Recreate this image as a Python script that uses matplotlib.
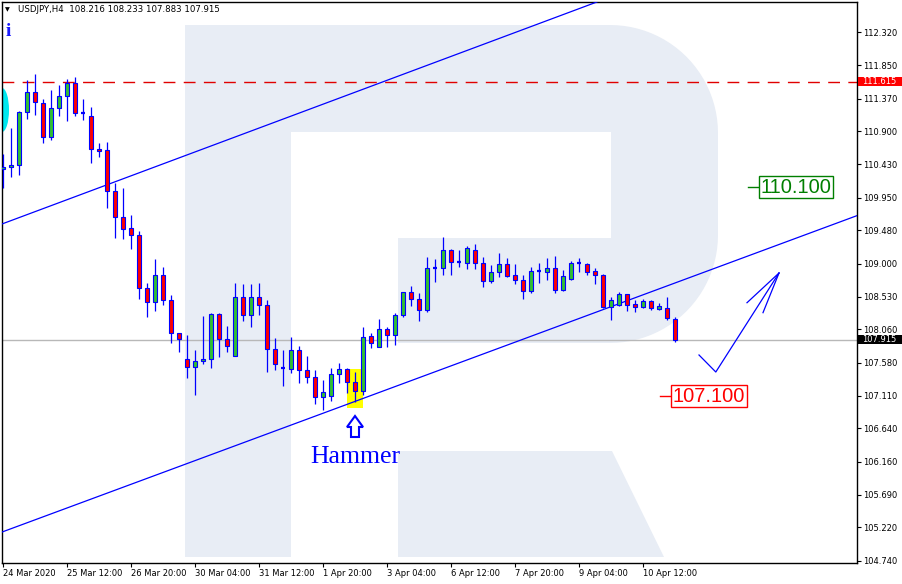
import numpy as np
import matplotlib
matplotlib.use("Agg")
import matplotlib.pyplot as plt
from matplotlib.patches import Rectangle, Polygon, Ellipse

W, H = 902, 584

# ---- H4 candles ----
bar_open = [110.361, 110.390, 110.419, 111.179, 111.466, 111.308, 110.821, 111.237, 111.409, 111.595,
            111.165, 111.122, 110.648, 110.634, 110.046, 109.673, 109.515, 109.415, 108.654, 108.453,
            108.841, 108.482, 108.008, 107.635, 107.521, 107.607, 107.635, 108.281, 107.922, 107.679,
            108.525, 108.267, 108.525, 108.410, 107.779, 107.506, 107.492, 107.765, 107.478, 107.377,
            107.090, 107.105, 107.420, 107.492, 107.306, 107.176, 107.965, 107.808, 108.066, 107.980,
            108.267, 108.597, 108.496, 108.338, 108.941, 108.941, 109.199, 109.027, 109.013, 109.199,
            109.013, 108.755, 108.884, 108.998, 108.841, 108.769, 108.611, 108.898, 108.884, 108.941,
            108.625, 108.783, 109.013, 108.998, 108.898, 108.841, 108.381, 108.410, 108.568, 108.424,
            108.381, 108.468, 108.353, 108.367, 108.216]
bar_high = [110.577, 110.950, 111.194, 111.638, 111.724, 111.366, 111.495, 111.567, 111.653, 111.681,
            111.366, 111.251, 110.734, 110.749, 110.161, 110.089, 109.701, 109.472, 108.726, 109.070,
            108.955, 108.554, 108.015, 107.980, 107.765, 108.252, 108.295, 108.295, 108.109, 108.726,
            108.711, 108.711, 108.726, 108.482, 107.937, 107.765, 107.951, 107.822, 107.679, 107.478,
            107.334, 107.506, 107.578, 107.500, 107.449, 108.095, 108.008, 108.209, 108.095, 108.295,
            108.597, 108.683, 108.582, 109.099, 109.070, 109.386, 109.214, 109.199, 109.257, 109.285,
            109.099, 108.984, 109.156, 109.085, 108.998, 108.841, 108.955, 109.013, 109.085, 109.113,
            108.912, 109.041, 109.085, 109.013, 108.941, 108.850, 108.525, 108.597, 108.575, 108.482,
            108.496, 108.482, 108.439, 108.525, 108.233]
bar_low = [110.089, 110.247, 110.275, 111.079, 111.136, 110.734, 110.777, 111.122, 111.050, 111.122,
           111.064, 110.447, 110.534, 109.802, 109.371, 109.357, 109.214, 108.496, 108.238, 108.324,
           108.410, 107.865, 107.736, 107.363, 107.119, 107.564, 107.506, 107.664, 107.736, 107.679,
           108.181, 108.095, 108.267, 107.449, 107.478, 107.248, 107.435, 107.291, 107.291, 106.990,
           106.904, 107.033, 107.291, 107.148, 107.019, 107.119, 107.793, 107.808, 107.808, 107.836,
           108.238, 108.396, 108.181, 108.310, 108.740, 108.841, 108.841, 108.955, 108.927, 108.927,
           108.668, 108.726, 108.812, 108.812, 108.711, 108.496, 108.582, 108.726, 108.769, 108.582,
           108.611, 108.769, 108.884, 108.841, 108.711, 108.367, 108.195, 108.396, 108.324, 108.310,
           108.367, 108.338, 108.338, 108.195, 107.883]
bar_close = [110.390, 110.419, 111.179, 111.466, 111.323, 110.821, 111.237, 111.409, 111.595, 111.165,
             111.150, 110.648, 110.620, 110.046, 109.673, 109.501, 109.415, 108.654, 108.453, 108.841,
             108.482, 108.008, 107.922, 107.521, 107.607, 107.635, 108.281, 107.922, 107.822, 108.525,
             108.267, 108.525, 108.410, 107.779, 107.564, 107.492, 107.765, 107.478, 107.377, 107.090,
             107.162, 107.420, 107.492, 107.306, 107.176, 107.951, 107.865, 108.066, 107.980, 108.267,
             108.597, 108.496, 108.338, 108.941, 108.935, 109.199, 109.027, 109.013, 109.228, 109.013,
             108.755, 108.884, 108.998, 108.826, 108.769, 108.611, 108.898, 108.884, 108.941, 108.625,
             108.826, 109.013, 108.998, 108.884, 108.841, 108.381, 108.482, 108.568, 108.410, 108.381,
             108.468, 108.367, 108.396, 108.224, 107.915]

date_ticks = [0, 8, 16, 24, 32, 40, 48, 56, 64, 72, 80]
date_labels = ["24 Mar 2020", "25 Mar 12:00", "26 Mar 20:00", "30 Mar 04:00", "31 Mar 12:00",
               "1 Apr 20:00", "3 Apr 04:00", "6 Apr 12:00", "7 Apr 20:00", "9 Apr 04:00",
               "10 Apr 12:00"]
price_ticks = [112.320, 111.850, 111.370, 110.900, 110.430, 109.950, 109.480, 109.000, 108.530,
               108.060, 107.580, 107.110, 106.640, 106.160, 105.690, 105.220, 104.740]

last_price = 107.915
resistance = 111.615
target_up = 110.100
target_down = 107.100

# channel anchors (bar index, price)
upper_pts = [(0.0, 109.578), (74.0, 112.747)]
lower_pts = [(-0.125, 105.153), (106.625, 109.687)]

# hammer highlight (bar span, price span)
hammer_bar = 44
hammer_span = (43.0, 45.0)
hammer_prices = (106.933, 107.492)

# forecast zigzag
forecast_x = [87.0, 89.1, 97.0]
forecast_y = [107.693, 107.449, 108.869]
head_x = [93.0, 95.0]
head_y = [108.443, 108.300]

BLUE = "#0000ff"
GREEN = "#32c032"
RED = "#ff0000"
WM = "#e8edf5"


def px(x, y):
    """image pixel -> figure fraction"""
    return x / W, 1 - y / H


fig = plt.figure(figsize=(W / 100, H / 100), dpi=100)
fig.patch.set_facecolor("white")
ax = fig.add_axes([2 / W, (H - 563) / H, 855 / W, 561 / H])
ax.set_xlim(-0.125, 106.75)
ax.set_ylim(104.709, 112.757)

# watermark "R"
t = np.linspace(0, np.pi / 2, 25)
arc1 = list(zip(610 + 108 * np.sin(t), 133 - 108 * np.cos(t)))
arc2 = list(zip(610 + 108 * np.cos(t), 235 + 108 * np.sin(t)))
bowl = [(185, 25)] + arc1 + arc2 + [(398, 343), (398, 238), (611, 238), (611, 132),
                                    (291, 132), (291, 557), (185, 557)]
leg = [(398, 451), (612, 451), (664, 557), (398, 557)]
for shape in (bowl, leg):
    ax.add_patch(Polygon([px(*p) for p in shape], closed=True, fc=WM, ec="none",
                         transform=fig.transFigure, zorder=0))

# cyan indicator blob at left edge
ax.add_patch(Ellipse(px(2, 110), 14 / W, 44 / H, fc="#00e8f0", ec="none",
                     transform=fig.transFigure, zorder=1))

# horizontal lines
ax.axhline(resistance, color="#e00000", lw=1, dashes=(8.5, 6), zorder=2)
ax.axhline(last_price, color="#b8b8b8", lw=1, zorder=2)

# channel
ax.axline(*upper_pts, color=BLUE, lw=0.9, zorder=3)
ax.axline(*lower_pts, color=BLUE, lw=0.9, zorder=3)

# hammer highlight
ax.add_patch(Rectangle((hammer_span[0], hammer_prices[0]), hammer_span[1] - hammer_span[0],
                       hammer_prices[1] - hammer_prices[0], fc="#ffff00", ec="none", zorder=2))

# candles
w = 0.62
for i, (o, h, l, c) in enumerate(zip(bar_open, bar_high, bar_low, bar_close)):
    ax.vlines(i, l, h, color=BLUE, lw=0.9, zorder=4)
    if abs(c - o) < 0.02:
        ax.hlines(o, i - w / 2, i + w / 2, color=BLUE, lw=1.6, zorder=5)
    else:
        ax.add_patch(Rectangle((i - w / 2, min(o, c)), w, abs(c - o),
                               fc=GREEN if c > o else RED, ec=BLUE, lw=0.8, zorder=5))

# forecast arrow
ax.plot(forecast_x, forecast_y, color=BLUE, lw=0.9, zorder=6)
for hx, hy in zip(head_x, head_y):
    ax.plot([hx, forecast_x[-1]], [hy, forecast_y[-1]], color=BLUE, lw=0.9, zorder=6)

# targets
for price, col, x0 in ((target_up, "#007f00", 93.1), (target_down, "#ff0000", 82.1)):
    ax.plot([x0, x0 + 1.35], [price, price], color=col, lw=1, zorder=6)
    ax.text(x0 + 1.6, price, f"{price:.3f}", color=col, fontsize=14.5,
            family="Liberation Sans", ha="left", va="center", zorder=7,
            bbox=dict(boxstyle="square,pad=0.08", fc="white", ec=col, lw=1))

# hammer label + hollow arrow
arrow = [(355, 416), (363, 427), (359, 427), (359, 437), (351, 437), (351, 427), (347, 427)]
ax.add_patch(Polygon([px(*p) for p in arrow], closed=True, fc="white", ec=BLUE, lw=1.5,
                     transform=fig.transFigure, zorder=6))
ax.text(hammer_bar + 0.05, 106.143, "Hammer", color=BLUE, fontsize=18.5,
        family="Liberation Serif", ha="center", va="baseline", zorder=7)

# axes styling
for s in ax.spines.values():
    s.set_color("black")
    s.set_linewidth(1)
ax.yaxis.tick_right()
ax.set_yticks(price_ticks)
ax.set_yticklabels([f"{v:.3f}" for v in price_ticks])
ax.set_xticks(date_ticks)
ax.set_xticklabels(date_labels)
ax.tick_params(axis="y", which="both", direction="out", length=3, width=0.8, pad=1.5,
               labelsize=6, colors="black")
ax.tick_params(axis="x", which="both", direction="out", length=3, width=0.8, pad=1,
               labelsize=6, colors="black")
for lbl in ax.get_xticklabels():
    lbl.set_ha("left")

# price boxes on the right axis
fig.canvas.draw()
for price, bg in ((resistance, "#ff0000"), (last_price, "black")):
    yi = H - ax.transData.transform((0, price))[1]
    fig.add_artist(Rectangle(px(858, yi + 4.8), 44 / W, 9.6 / H, fc=bg, ec="none",
                             transform=fig.transFigure, zorder=5))
    fig.text(*px(862, yi), f"{price:.3f}", color="white", fontsize=6, ha="left",
             va="center", zorder=6)

# header
fig.text(*px(5, 10), "\u25bc", fontsize=4.5, ha="left", va="center", color="black")
fig.text(*px(18, 10), "USDJPY,H4  108.216 108.233 107.883 107.915", fontsize=6.2,
         ha="left", va="center", color="black")
fig.text(*px(8, 31), "i", fontsize=14, family="Liberation Serif", weight="bold",
         ha="center", va="center", color="#1a1aff")

fig.savefig("out.png", dpi=100)
